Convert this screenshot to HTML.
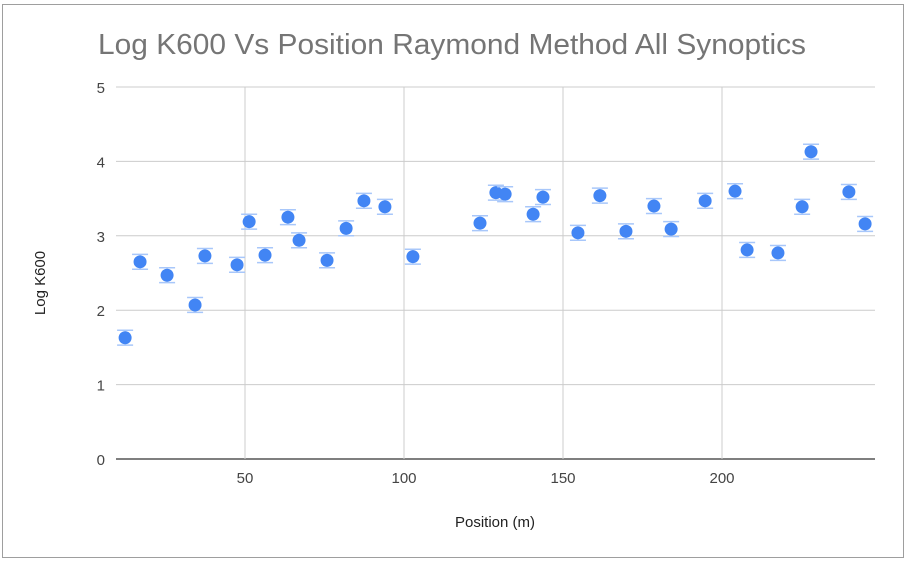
<!DOCTYPE html>
<html><head><meta charset="utf-8"><style>
html,body{margin:0;padding:0;background:#fff;width:907px;height:564px;overflow:hidden}
svg{display:block;font-family:"Liberation Sans",Roboto,sans-serif}
</style></head><body>
<svg id="chart" width="907" height="564" viewBox="0 0 907 564">
<rect x="0" y="0" width="907" height="564" fill="#fff"/>
<rect x="2.5" y="4.5" width="901" height="553" fill="#fff" stroke="#9e9e9e" stroke-width="1"/>
<text x="98" y="54" font-size="29" fill="#757575" textLength="708" lengthAdjust="spacingAndGlyphs">Log K600 Vs Position Raymond Method All Synoptics</text>
<g id="grid"></g>
<g id="marks"></g>
<text x="495" y="527" font-size="15" fill="#222" text-anchor="middle">Position (m)</text>
<text transform="translate(45,283) rotate(-90)" font-size="15" fill="#222" text-anchor="middle">Log K600</text>
</svg>
<script>
const xTicks = [50, 100, 150, 200];
const yTicks = [0, 1, 2, 3, 4, 5];
const positions = [12.3,17,25.5,34.3,37.4,47.5,51.3,56.3,63.5,67,75.8,81.8,87.4,94,102.8,123.9,128.9,131.8,140.6,143.7,154.7,161.6,169.8,178.6,184,194.7,204.1,207.9,217.6,225.2,228,239.9,245];
const logK600 = [1.63,2.65,2.47,2.07,2.73,2.61,3.19,2.74,3.25,2.94,2.67,3.10,3.47,3.39,2.72,3.17,3.58,3.56,3.29,3.52,3.04,3.54,3.06,3.40,3.09,3.47,3.60,2.81,2.77,3.39,4.13,3.59,3.16];
const errors = [0.1,0.1,0.1,0.1,0.1,0.1,0.1,0.1,0.1,0.1,0.1,0.1,0.1,0.1,0.1,0.1,0.1,0.1,0.1,0.1,0.1,0.1,0.1,0.1,0.1,0.1,0.1,0.1,0.1,0.1,0.1,0.1,0.1];

const NS = "http://www.w3.org/2000/svg";
const L = 116, R = 875, T = 87, B = 459;
function xs(v){ return 86 + v * 3.18; }
function ys(v){ return B - v * (B - T) / 5; }
function mk(tag, attrs, parent){ const e = document.createElementNS(NS, tag); for (const k in attrs) e.setAttribute(k, attrs[k]); parent.appendChild(e); return e; }
const grid = document.getElementById('grid');
const marks = document.getElementById('marks');
yTicks.forEach(t => {
  const y = ys(t);
  const ln = mk('line', {x1:L, x2:R, y1:y, y2:y, stroke: t===0 ? '#333' : '#ccc', 'stroke-width': t===0 ? 1.3 : 1}, grid);
  
  
  const tx = mk('text', {x:105, y:y+6, 'font-size':15, fill:'#444', 'text-anchor':'end'}, grid);
  tx.textContent = t;
  
  
});
xTicks.forEach(t => {
  const x = xs(t);
  const ln = mk('line', {x1:x, x2:x, y1:T, y2:B, stroke:'#ccc', 'stroke-width':1}, grid);
  
  
  const tx = mk('text', {x:x, y:483, 'font-size':15, fill:'#444', 'text-anchor':'middle'}, grid);
  tx.textContent = t;
  
  
});
positions.forEach((p, i) => {
  const x = xs(p), v = logK600[i], e = errors[i];
  const g = mk('g', {}, marks);
  
  
  [v + e, v - e].forEach(c => {
    const y = ys(c);
    mk('line', {x1:x-8, x2:x+8, y1:y, y2:y, stroke:'#a8c7fa', 'stroke-width':1.5}, g);
  });
  mk('line', {x1:x, x2:x, y1:ys(v+e), y2:ys(v-e), stroke:'#a8c7fa', 'stroke-width':1}, g);
  mk('circle', {cx:x, cy:ys(v), r:6.5, fill:'#4285f4'}, g);
});
</script>
</body></html>
